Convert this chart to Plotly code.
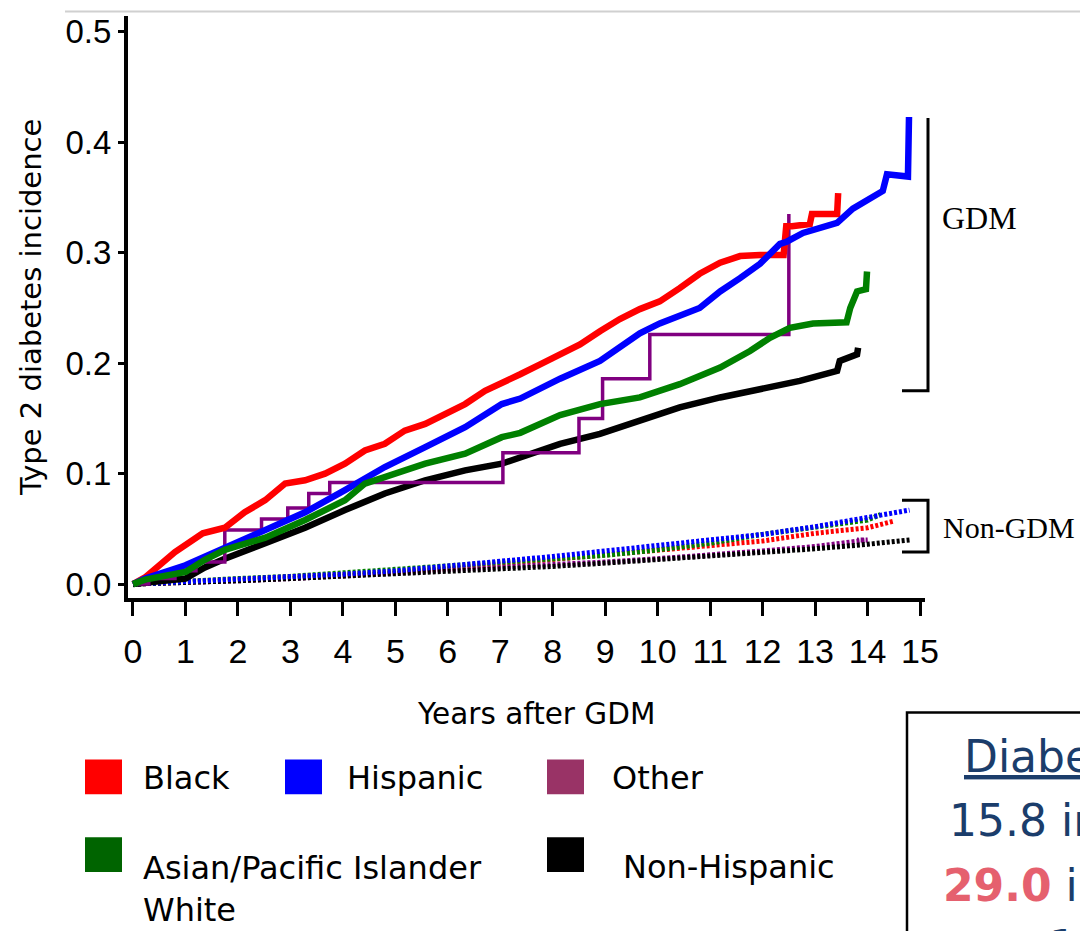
import plotly.graph_objects as go

# ---------------- data ----------------
years_black_gdm = [0, 0.23, 0.8, 1.33, 1.75, 2.13, 2.52, 2.9, 3.28, 3.66, 4.04, 4.42, 4.8, 5.18, 5.57, 5.95,
                   6.33, 6.71, 7.0, 7.38, 7.76, 8.14, 8.52, 8.9, 9.28, 9.66, 10.04, 10.42, 10.8, 11.19, 11.57,
                   11.95, 12.4, 12.45, 12.56, 12.9, 12.94, 13.42, 13.44]
inc_black_gdm = [0, 0.006, 0.029, 0.046, 0.051, 0.065, 0.076, 0.091, 0.094, 0.100, 0.109, 0.121, 0.127, 0.139,
                 0.145, 0.154, 0.163, 0.175, 0.181, 0.190, 0.199, 0.208, 0.217, 0.229, 0.240, 0.249, 0.256, 0.268,
                 0.281, 0.291, 0.297, 0.298, 0.298, 0.324, 0.324, 0.326, 0.335, 0.335, 0.354]

years_hisp_gdm = [0, 0.23, 1.0, 1.75, 2.52, 3.28, 4.04, 4.8, 5.57, 6.33, 7.03, 7.38, 8.14, 8.9, 9.66, 10.04,
                  10.8, 11.19, 11.57, 11.95, 12.33, 12.46, 12.77, 13.09, 13.42, 13.72, 14.05, 14.29, 14.37,
                  14.77, 14.79]
inc_hisp_gdm = [0, 0.005, 0.017, 0.033, 0.049, 0.065, 0.085, 0.106, 0.124, 0.142, 0.163, 0.168, 0.186, 0.202,
                0.227, 0.236, 0.250, 0.265, 0.277, 0.290, 0.308, 0.310, 0.318, 0.322, 0.327, 0.340, 0.349,
                0.356, 0.371, 0.369, 0.423]

years_other_gdm = [0, 0.3, 0.8, 1.2, 1.75, 2.45, 2.95, 3.35, 3.75, 7.05, 8.5, 8.95, 9.85, 12.35, 12.5]
inc_other_gdm = [0, 0.005, 0.012, 0.020, 0.049, 0.059, 0.069, 0.082, 0.092, 0.119, 0.150, 0.186, 0.226, 0.226, 0.335]

years_asian_gdm = [0, 0.23, 1.0, 1.37, 1.75, 2.52, 3.28, 4.04, 4.42, 4.8, 5.57, 6.33, 7.03, 7.38, 8.14, 8.9,
                   9.66, 10.42, 11.19, 11.76, 12.14, 12.52, 12.96, 13.6, 13.67, 13.8, 13.97, 13.99]
inc_asian_gdm = [0, 0.004, 0.011, 0.022, 0.031, 0.042, 0.058, 0.076, 0.091, 0.097, 0.109, 0.118, 0.133, 0.137,
                 0.153, 0.163, 0.169, 0.181, 0.196, 0.211, 0.223, 0.232, 0.236, 0.237, 0.250, 0.265, 0.267, 0.283]

years_white_gdm = [0, 0.23, 1.0, 1.37, 1.75, 2.52, 3.28, 4.04, 4.8, 5.57, 6.33, 7.03, 7.38, 8.14, 8.9, 9.66,
                   10.42, 11.19, 11.95, 12.71, 13.42, 13.47, 13.8, 13.82]
inc_white_gdm = [0, 0.001, 0.005, 0.015, 0.023, 0.037, 0.051, 0.067, 0.082, 0.094, 0.103, 0.109, 0.115, 0.127,
                 0.136, 0.148, 0.160, 0.169, 0.177, 0.184, 0.193, 0.202, 0.208, 0.214]

years_nongdm = [0, 1, 2, 3, 4, 5, 6, 7, 8, 9, 10, 11, 12, 13, 14]
inc_black_non = [0, 0.002, 0.004, 0.006, 0.008, 0.011, 0.014, 0.018, 0.022, 0.026, 0.030, 0.034, 0.039, 0.046, 0.051]
inc_hisp_non = [0, 0.002, 0.004, 0.006, 0.009, 0.012, 0.016, 0.021, 0.025, 0.030, 0.035, 0.040, 0.045, 0.052, 0.060]
inc_asian_non = [0, 0.003, 0.005, 0.007, 0.010, 0.013, 0.016, 0.020, 0.023, 0.026, 0.031, 0.037, 0.045, 0.051, 0.058]
inc_white_non = [0, 0.001, 0.003, 0.005, 0.007, 0.009, 0.011, 0.014, 0.016, 0.019, 0.022, 0.025, 0.028, 0.032, 0.036]
inc_other_non = [0, 0.001, 0.003, 0.005, 0.007, 0.010, 0.013, 0.015, 0.018, 0.020, 0.023, 0.026, 0.030, 0.034, 0.040]
end_year_non = {"Black": 14.5, "Hispanic": 14.8, "Asian": 14.25, "White": 14.8, "Other": 13.8}
end_inc_non = {"Black": 0.057, "Hispanic": 0.067, "Asian": 0.063, "White": 0.040, "Other": 0.040}

x_ticks = list(range(0, 16))
y_ticks = [0.0, 0.1, 0.2, 0.3, 0.4, 0.5]
y_tick_text = ["0.0", "0.1", "0.2", "0.3", "0.4", "0.5"]

legend_labels = ["Black", "Hispanic", "Other", "Asian/Pacific Islander<br>White", "Non-Hispanic"]
legend_colors = ["#FF0000", "#0000FF", "#993366", "#006400", "#000000"]

# ---------------- layout helpers ----------------
OFF = 8                      # page body margin offset
W, H = 1088 - OFF, 931 - OFF
L, R, T, B = 128, 925, 14, 598  # plot area in reference pixels
X_RANGE = [-0.095, 15.095]
Y_RANGE = [-0.0126, 0.5144]


def px(x):
    return (x - L) / (R - L)


def py(y):
    return (B - y) / (B - T)


def dy(v):
    return (v - Y_RANGE[0]) / (Y_RANGE[1] - Y_RANGE[0])


fig = go.Figure()

# non-GDM (dotted)
non_series = [("Black", inc_black_non, "#FF0000"), ("Other", inc_other_non, "#800080"),
              ("White", inc_white_non, "#000000"), ("Asian", inc_asian_non, "#008000"),
              ("Hispanic", inc_hisp_non, "#0000FF")]
for name, vals, col in non_series:
    fig.add_trace(go.Scatter(x=years_nongdm + [end_year_non[name]], y=vals + [end_inc_non[name]],
                             mode="lines", line=dict(color=col, width=5, dash="3px,2px"),
                             showlegend=False, hoverinfo="skip"))

# GDM
fig.add_trace(go.Scatter(x=years_white_gdm, y=inc_white_gdm, mode="lines",
                         line=dict(color="#000000", width=6.5), showlegend=False))
fig.add_trace(go.Scatter(x=years_other_gdm, y=inc_other_gdm, mode="lines", line_shape="hv",
                         line=dict(color="#800080", width=3.5), showlegend=False))
fig.add_trace(go.Scatter(x=years_black_gdm, y=inc_black_gdm, mode="lines",
                         line=dict(color="#FF0000", width=6.5), showlegend=False))
fig.add_trace(go.Scatter(x=years_hisp_gdm, y=inc_hisp_gdm, mode="lines",
                         line=dict(color="#0000FF", width=6.5), showlegend=False))
fig.add_trace(go.Scatter(x=years_asian_gdm, y=inc_asian_gdm, mode="lines",
                         line=dict(color="#008000", width=6.5), showlegend=False))

shapes = []
annotations = []

# top grey rule
shapes.append(dict(type="line", xref="paper", yref="paper", x0=px(65), x1=px(1100), y0=py(9.5), y1=py(9.5),
                   line=dict(color="#d0d0d0", width=2)))

# GDM bracket
bx = px(928)
shapes.append(dict(type="path", xref="paper", yref="paper",
                   path=f"M {bx} {dy(0.422)} L {bx} {dy(0.175)} L {px(902)} {dy(0.175)}",
                   line=dict(color="black", width=3)))
# Non-GDM bracket
shapes.append(dict(type="path", xref="paper", yref="paper",
                   path=f"M {px(902)} {dy(0.076)} L {bx} {dy(0.076)} L {bx} {dy(0.029)} L {px(902)} {dy(0.029)}",
                   line=dict(color="black", width=3)))
annotations.append(dict(text="GDM", xref="paper", yref="paper", x=px(940), y=py(217), xanchor="left",
                        yanchor="middle", showarrow=False,
                        font=dict(family="Liberation Serif", size=32, color="black")))
annotations.append(dict(text="Non-GDM", xref="paper", yref="paper", x=px(941), y=py(527), xanchor="left",
                        yanchor="middle", showarrow=False,
                        font=dict(family="Liberation Serif", size=30, color="black")))

# axis titles
annotations.append(dict(text="Type 2 diabetes incidence", xref="paper", yref="paper", x=px(31), y=py(307),
                        textangle=-90, showarrow=False, xanchor="center", yanchor="middle",
                        font=dict(family="DejaVu Sans", size=29, color="black")))
annotations.append(dict(text="Years after GDM", xref="paper", yref="paper", x=px(536), y=py(714),
                        showarrow=False, xanchor="center", yanchor="middle",
                        font=dict(family="DejaVu Sans", size=29.5, color="black")))

# custom legend
leg_pos = [(85, 760, 141, 779), (285, 760, 345, 779), (547, 760, 610, 779),
           (85, 838, 141, 890), (547, 838, 621, 868)]
for (sx, sy, tx, ty), lab, col in zip(leg_pos, legend_labels, legend_colors):
    shapes.append(dict(type="rect", xref="paper", yref="paper", x0=px(sx), x1=px(sx + 37),
                       y0=py(sy), y1=py(sy + 35), fillcolor=col, line=dict(width=0)))
    annotations.append(dict(text=lab, xref="paper", yref="paper", x=px(tx), y=py(ty), xanchor="left",
                            yanchor="middle", align="left", showarrow=False,
                            font=dict(family="DejaVu Sans", size=32, color="black")))

# cut-off text box (bottom right)
shapes.append(dict(type="rect", xref="paper", yref="paper", x0=px(907), x1=px(1200), y0=py(713), y1=py(1000),
                   line=dict(color="black", width=2.5), fillcolor="rgba(0,0,0,0)"))
blue_txt = "#1B3D6B"
annotations.append(dict(text="<u>Diabetes incidence</u>", xref="paper", yref="paper", x=px(962), y=py(757),
                        xanchor="left", yanchor="middle", showarrow=False,
                        font=dict(family="DejaVu Sans", size=44, color=blue_txt)))
annotations.append(dict(text="15.8 in non-GDM", xref="paper", yref="paper", x=px(947), y=py(821),
                        xanchor="left", yanchor="middle", showarrow=False,
                        font=dict(family="DejaVu Sans", size=44, color=blue_txt)))
annotations.append(dict(text="<b><span style='color:#E5606E'>29.0</span></b> in GDM", xref="paper", yref="paper",
                        x=px(941), y=py(886), xanchor="left", yanchor="middle", showarrow=False,
                        font=dict(family="DejaVu Sans", size=44, color=blue_txt)))
annotations.append(dict(text="per 1000", xref="paper", yref="paper", x=px(960), y=py(948),
                        xanchor="left", yanchor="middle", showarrow=False,
                        font=dict(family="DejaVu Sans", size=44, color=blue_txt)))

fig.update_layout(
    width=W, height=H,
    margin=dict(l=L - OFF, r=1088 - R, t=T - OFF, b=931 - B, pad=0),
    paper_bgcolor="white", plot_bgcolor="white",
    shapes=shapes, annotations=annotations,
    showlegend=False,
    xaxis=dict(range=X_RANGE, tickvals=x_ticks, ticktext=[str(v) for v in x_ticks],
               showgrid=False, zeroline=False, showline=True, linecolor="black", linewidth=4,
               ticks="outside", ticklen=14, tickwidth=3, tickcolor="black", ticklabelstandoff=6,
               tickfont=dict(family="Liberation Sans", size=34, color="black")),
    yaxis=dict(range=Y_RANGE, tickvals=y_ticks, ticktext=y_tick_text,
               showgrid=False, zeroline=False, showline=True, linecolor="black", linewidth=4,
               ticks="outside", ticklen=6, tickwidth=2.5, tickcolor="black",
               tickfont=dict(family="Liberation Sans", size=33, color="black")),
)

fig.write_html("out.html")
